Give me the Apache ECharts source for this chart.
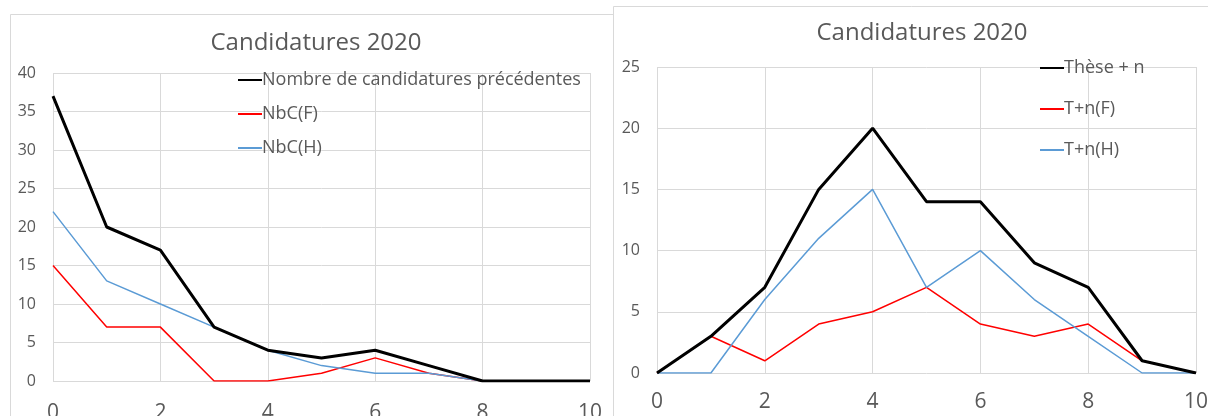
<!DOCTYPE html>
<html><head><meta charset="utf-8">
<script src="https://cdn.jsdelivr.net/npm/echarts@6/dist/echarts.min.js"></script>
<style>html,body{margin:0;padding:0;background:#fff}#c{width:1208px;height:416px}</style>
</head><body><div id="c"></div>
<script>
const xTicks = [0,1,2,3,4,5,6,7,8,9,10];
const nbTotal = [37,20,17,7,4,3,4,2,0,0,0];
const nbF = [15,7,7,0,0,1,3,1,0,0,0];
const nbH = [22,13,10,7,4,2,1,1,0,0,0];
const theseTotal = [0,3,7,15,20,14,14,9,7,1,0];
const theseF = [0,3,1,4,5,7,4,3,4,1,0];
const theseH = [0,0,6,11,15,7,10,6,3,0,0];
const titleText = 'Candidatures 2020';

const pairs = a => xTicks.map((x,i)=>[x,a[i]]);
const FONT = '"Open Sans", "Noto Sans", sans-serif';
const grey = '#595959';
const gridC = '#d9d9d9';

function xAxis(gi){return {type:'value',gridIndex:gi,min:0,max:10,interval:2,
  axisLine:{show:false},axisTick:{show:false},
  splitLine:{show:true,lineStyle:{color:gridC,width:1}},
  axisLabel:{color:grey,fontSize:21,fontFamily:FONT,margin:gi===0?22:19}};}
function yAxis(gi,max){return {type:'value',gridIndex:gi,min:0,max:max,interval:5,
  axisLine:{show:false},axisTick:{show:false},
  splitLine:{show:true,lineStyle:{color:gridC,width:1}},
  axisLabel:{color:grey,fontSize:16,fontFamily:FONT,margin:17}};}
function line(name,data,gi,color,w){return {name:name,type:'line',xAxisIndex:gi,yAxisIndex:gi,
  data:pairs(data),symbol:'none',lineStyle:{color:color,width:w},itemStyle:{color:color},
  emphasis:{disabled:true},animation:false};}

const legendCommon = {orient:'vertical',itemWidth:24,itemHeight:20,padding:0,
  itemStyle:{opacity:0},
  textStyle:{color:grey,fontSize:18,lineHeight:20,fontFamily:FONT,padding:[0,0,0,-5]}};

const chart = echarts.init(document.getElementById('c'),null,{renderer:'canvas'});
chart.setOption({
  animation:false,
  backgroundColor:'#fff',
  graphic:[
    {type:'rect',shape:{x:10.5,y:14.5,width:605,height:430},style:{fill:'#fff',stroke:gridC,lineWidth:1},z:-10},
    {type:'rect',shape:{x:613.5,y:6.5,width:610,height:430},style:{fill:'#fff',stroke:gridC,lineWidth:1},z:-9}
  ],
  title:[
    {text:titleText,left:311,top:26,textAlign:'center',textStyle:{color:grey,fontSize:24,fontWeight:'normal',fontFamily:FONT}},
    {text:titleText,left:917,top:16,textAlign:'center',textStyle:{color:grey,fontSize:24,fontWeight:'normal',fontFamily:FONT}}
  ],
  legend:[
    Object.assign({},legendCommon,{left:237,top:70,itemGap:14,
     data:['Nombre de candidatures précédentes','NbC(F)','NbC(H)']}),
    Object.assign({},legendCommon,{left:1039,top:58,itemGap:21,
     data:['Thèse + n','T+n(F)','T+n(H)']})
  ],
  grid:[
    {left:53,right:618,top:73,bottom:35,outerBoundsMode:'none'},
    {left:657,right:12,top:67,bottom:43,outerBoundsMode:'none'}
  ],
  xAxis:[xAxis(0),xAxis(1)],
  yAxis:[yAxis(0,40),yAxis(1,25)],
  series:[
    line('NbC(F)',nbF,0,'#ff0000',1.5),
    line('NbC(H)',nbH,0,'#5b9bd5',1.5),
    line('Nombre de candidatures précédentes',nbTotal,0,'#000000',3),
    line('T+n(F)',theseF,1,'#ff0000',1.5),
    line('T+n(H)',theseH,1,'#5b9bd5',1.5),
    line('Thèse + n',theseTotal,1,'#000000',3)
  ]
});
</script></body></html>
